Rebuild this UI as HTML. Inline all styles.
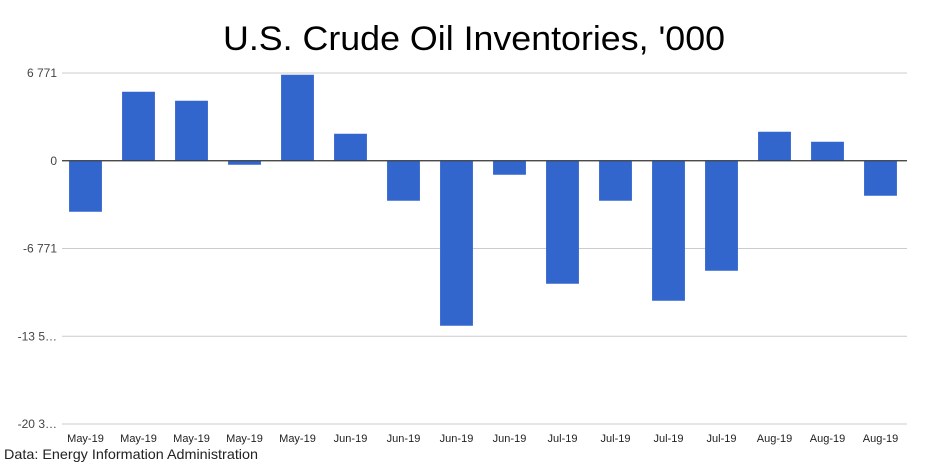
<!DOCTYPE html>
<html><head><meta charset="utf-8"><style>
html,body{margin:0;padding:0;background:#fff;width:948px;height:466px;overflow:hidden}
</style></head><body>
<svg id="chart" width="948" height="466" xmlns="http://www.w3.org/2000/svg">
<text x="474" y="50" text-anchor="middle" font-family="Liberation Sans, sans-serif" font-size="34" textLength="502" lengthAdjust="spacingAndGlyphs" fill="#000">U.S. Crude Oil Inventories, '000</text>
<g id="grid"></g><g id="bars"></g><g id="xlabels"></g>
<text x="4" y="459" font-family="Liberation Sans, sans-serif" font-size="14" textLength="254" lengthAdjust="spacingAndGlyphs" fill="#222">Data: Energy Information Administration</text>
</svg>
<script>
const categories=["May-19","May-19","May-19","May-19","May-19","Jun-19","Jun-19","Jun-19","Jun-19","Jul-19","Jul-19","Jul-19","Jul-19","Aug-19","Aug-19","Aug-19"];
const values=[-3935,5324,4630,-309,6636,2083,-3086,-12731,-1080,-9491,-3086,-10803,-8488,2238,1466,-2701];
const tickValues=[6771,0,-6771,-13542,-20313];
const tickLabels=["6 771","0","-6 771","-13 5…","-20 3…"];
const NS="http://www.w3.org/2000/svg";
const x0=59,x1=907,yTop=73,yBot=424,vMax=6771,vMin=-20313;
const y=v=>yTop+(vMax-v)/(vMax-vMin)*(yBot-yTop);
const band=(x1-x0)/categories.length;
const xc=i=>x0+band*(i+0.5);
const grid=document.getElementById('grid'),bars=document.getElementById('bars'),xl=document.getElementById('xlabels');
tickValues.forEach((t,i)=>{
 const l=document.createElementNS(NS,'line');
 l.setAttribute('x1',62);l.setAttribute('x2',x1);l.setAttribute('y1',y(t));l.setAttribute('y2',y(t));
 l.setAttribute('stroke',t===0?'#333':'#ccc');l.setAttribute('stroke-width','1');
 
 
 grid.appendChild(l);
 const tx=document.createElementNS(NS,'text');
 tx.setAttribute('x',57);tx.setAttribute('y',y(t)+4);tx.setAttribute('text-anchor','end');
 tx.setAttribute('font-family','Liberation Sans, sans-serif');tx.setAttribute('font-size','12');tx.setAttribute('fill','#444');
 tx.textContent=tickLabels[i];
 
 
 grid.appendChild(tx);
});
const bw=band*0.62;
values.forEach((v,i)=>{
 const r=document.createElementNS(NS,'rect');
 const a=y(Math.max(v,0)),b=y(Math.min(v,0));
 r.setAttribute('x',xc(i)-bw/2);r.setAttribute('y',a);r.setAttribute('width',bw);r.setAttribute('height',Math.max(b-a,0.5));
 r.setAttribute('fill','#3366cc');
 
 
 bars.insertBefore(r,bars.firstChild);
 const tx=document.createElementNS(NS,'text');
 tx.setAttribute('x',xc(i));tx.setAttribute('y',442);tx.setAttribute('text-anchor','middle');
 tx.setAttribute('font-family','Liberation Sans, sans-serif');tx.setAttribute('font-size','11');tx.setAttribute('fill','#222');
 tx.textContent=categories[i];
 
 
 xl.appendChild(tx);
});
const z=document.createElementNS(NS,'line');
z.setAttribute('x1',62);z.setAttribute('x2',x1);z.setAttribute('y1',y(0));z.setAttribute('y2',y(0));z.setAttribute('stroke','#333');


document.getElementById('chart').insertBefore(z,xl);
</script>
</body></html>
